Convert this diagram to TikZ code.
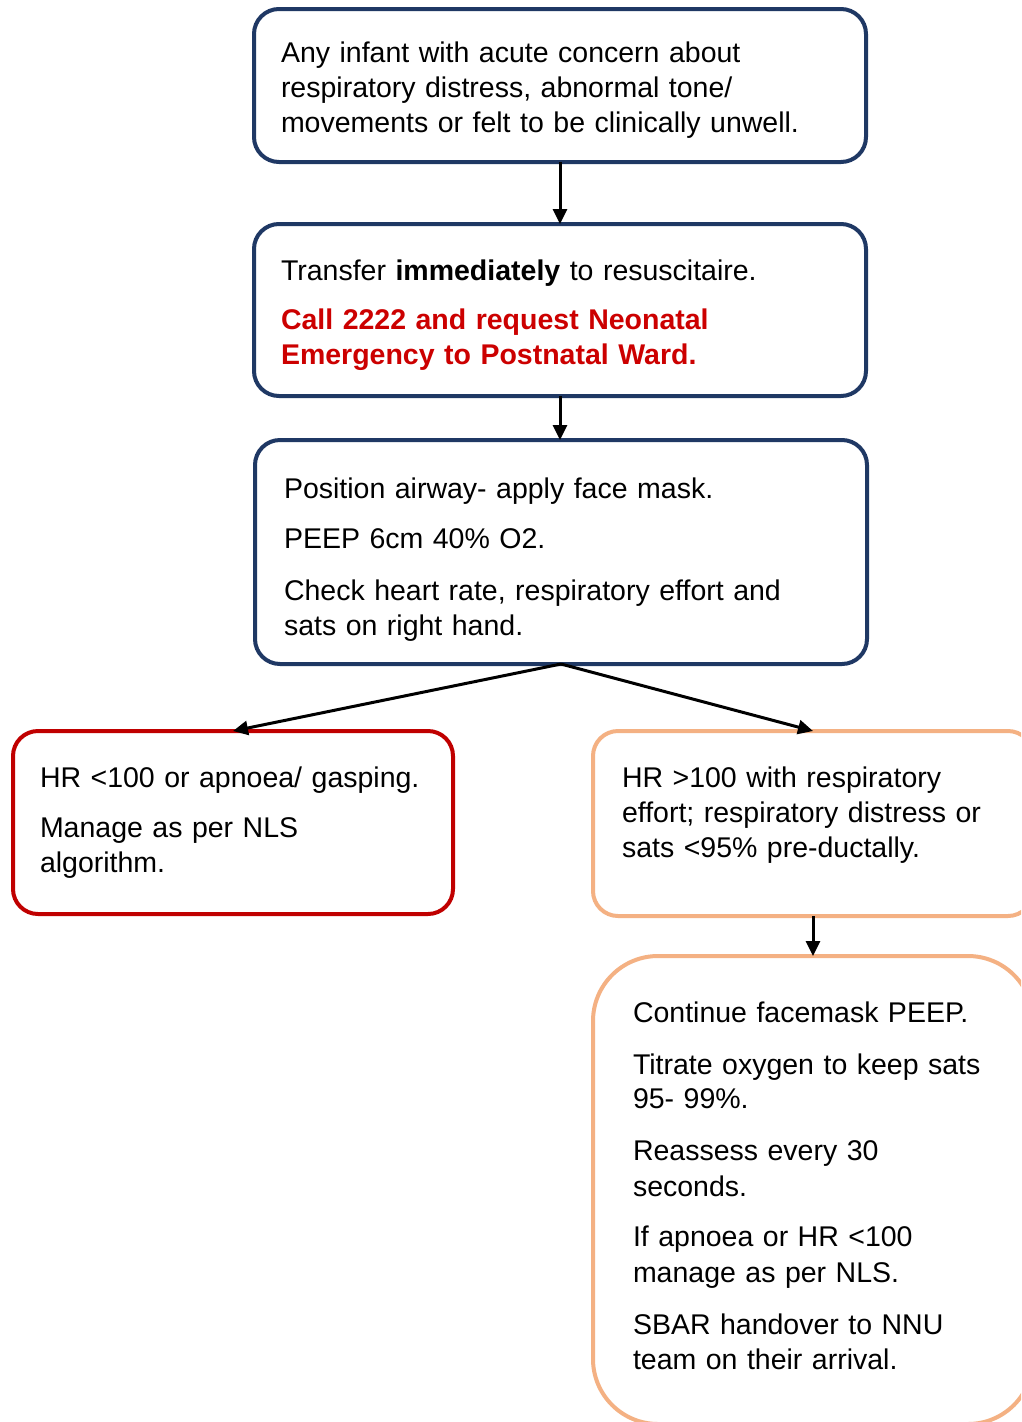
\documentclass[tikz,border=0pt]{standalone}
\usepackage{fontspec}
\setmainfont{Liberation Sans}
\usetikzlibrary{arrows.meta}
\definecolor{navy}{RGB}{31,56,100}
\definecolor{alertred}{RGB}{192,0,0}
\definecolor{calltext}{RGB}{204,0,0}
\definecolor{peach}{RGB}{244,177,131}
\begin{document}
\begin{tikzpicture}[x=1pt,y=-1pt,
  box/.style={draw,line width=4pt,rounded corners=25pt,anchor=north west,outer sep=0pt,
    align=left,inner ysep=0pt,font=\fontsize{28.5}{35}\selectfont},
  navybox/.style={box,draw=navy,inner xsep=27pt},
  redbox/.style={box,draw=alertred,inner xsep=27pt},
  peachbox/.style={box,draw=peach,inner xsep=29pt},
  arr/.style={line width=3pt,-{Triangle[length=15pt,width=14pt]}}]
  \clip (0,0) rectangle (1021,1422);
  \fill[white] (0,0) rectangle (1021,1422);
  \node[navybox,text height=30pt,text width=558pt,minimum height=153pt] (concern) at (254,9)
    {Any infant with acute concern about\\ respiratory distress, abnormal tone/\\ movements or felt to be clinically unwell.};
  \node[navybox,text height=31pt,text width=558pt,minimum height=172pt] (transfer) at (254,224)
    {Transfer \textbf{immediately} to resuscitaire.\\[14pt]
     \textcolor{calltext}{\bfseries Call 2222 and request Neonatal}\\
     \textcolor{calltext}{\bfseries Emergency to Postnatal Ward.}};
  \node[navybox,text height=35pt,inner xsep=29pt,text width=554pt,minimum height=224pt] (airway) at (255,440)
    {Position airway- apply face mask.\\[15pt] PEEP 6cm 40\% O2.\\[17pt]
     Check heart rate, respiratory effort and\\ sats on right hand.};
  \node[redbox,text width=386pt,minimum height=183pt] (nls) at (13,731)
    {HR <100 or apnoea/ gasping.\\[15pt] Manage as per NLS\\ algorithm.};
  \node[peachbox,text depth=93pt,text width=382pt,minimum height=185pt] (effort) at (593,731)
    {HR >100 with respiratory\\ effort; respiratory distress or\\ sats <95\% pre-ductally.};
  \node[peachbox,text height=12pt,rounded corners=65pt,inner xsep=40pt,text width=360pt,minimum height=468pt] (peep) at (593,956)
    {Continue facemask PEEP.\\[17pt] Titrate oxygen to keep sats\\[-1pt] 95- 99\%.\\[17pt]
     Reassess every 30\\[1pt] seconds.\\[15pt] If apnoea or HR <100\\[1pt] manage as per NLS.\\[17pt]
     SBAR handover to NNU\\ team on their arrival.};
  \draw[arr] (concern.south) -- (transfer.north);
  \draw[arr] (transfer.south) -- (transfer.south |- airway.north);
  \draw[arr] (airway.south) -- (nls.north);
  \draw[arr] (airway.south) -- (effort.north);
  \draw[arr] (effort.south) -- (peep.north);
\end{tikzpicture}
\end{document}
